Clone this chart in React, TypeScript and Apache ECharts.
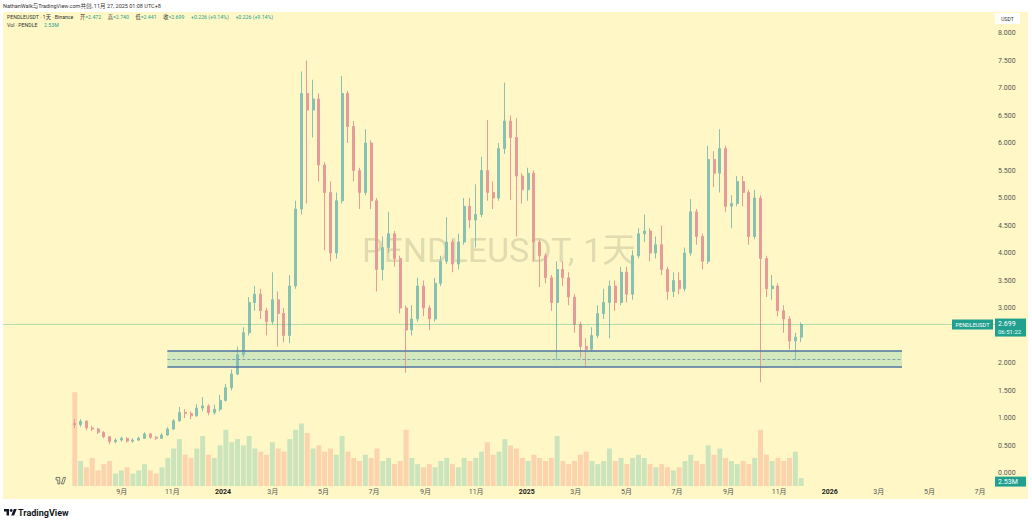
import React, { useEffect, useRef } from "react";
import * as echarts from "echarts";

// ---------- data (weekly candles, weeks start 2023-07-03) ----------
const seriesStart = "2023-07-03";
const firstOpen = 0.9;
const weekClose = [
  0.88, 0.94, 0.82, 0.8, 0.74, 0.66, 0.57, 0.6, 0.63, 0.58,
  0.6, 0.63, 0.71, 0.65, 0.63, 0.69, 0.8, 0.95, 1.1, 1.08,
  1.04, 1.18, 1.22, 1.1, 1.16, 1.32, 1.55, 1.8, 2.15, 2.55,
  3.1, 3.25, 2.95, 2.75, 3.15, 2.9, 2.5, 3.4, 4.8, 6.9,
  6.6, 6.8, 5.6, 5.1, 4.0, 4.95, 6.9, 6.3, 5.5, 5.1,
  6.0, 4.95, 3.7, 4.1, 4.35, 3.9, 3.0, 2.6, 2.8, 3.4,
  3.0, 2.8, 3.45, 3.85, 4.2, 3.8, 4.2, 4.85, 4.6, 4.7,
  5.5, 5.1, 5.0, 5.9, 6.4, 6.1, 5.4, 5.15, 5.45, 4.2,
  3.95, 3.55, 3.1, 3.7, 3.55, 3.2, 2.7, 2.3, 2.25, 2.5,
  2.9, 3.1, 3.4, 3.1, 3.65, 3.25, 3.95, 4.35, 4.4, 4.0,
  4.15, 3.7, 3.3, 3.5, 3.35, 4.0, 4.75, 4.3, 3.85, 5.7,
  5.45, 5.9, 4.85, 4.9, 5.3, 5.1, 4.3, 5.0, 3.9, 3.35,
  3.4, 2.95, 2.8, 2.4, 2.47, 2.699,
];
const weekHigh = [
  0.98, 0.98, 0.96, 0.86, 0.82, 0.76, 0.67, 0.63, 0.66, 0.65,
  0.63, 0.66, 0.74, 0.73, 0.67, 0.72, 0.83, 0.98, 1.2, 1.16,
  1.12, 1.25, 1.38, 1.25, 1.24, 1.42, 1.62, 1.88, 2.3, 2.65,
  3.2, 3.4, 3.35, 3.0, 3.65, 3.3, 3.0, 3.6, 4.95, 7.3,
  7.5, 7.15, 6.9, 5.65, 5.3, 5.1, 7.22, 6.95, 6.4, 5.55,
  6.25, 6.05, 5.0, 4.3, 4.75, 4.4, 3.95, 3.05, 3.05, 3.55,
  3.5, 3.05, 3.55, 3.95, 4.65, 4.25, 4.35, 5.0, 5.0, 5.25,
  5.75, 6.42, 5.3, 6.0, 7.1, 6.5, 6.45, 5.45, 5.55, 5.5,
  4.25, 4.0, 3.6, 3.85, 3.85, 3.65, 3.25, 2.75, 2.45, 2.65,
  3.05, 3.35, 3.5, 3.5, 3.75, 3.75, 4.05, 4.45, 4.7, 4.45,
  4.3, 4.5, 3.75, 3.65, 3.65, 4.1, 4.98, 4.8, 4.35, 5.95,
  5.85, 6.25, 5.95, 5.05, 5.4, 5.4, 5.15, 5.15, 5.05, 3.95,
  3.6, 3.45, 3.05, 2.85, 2.55, 2.74,
];
const weekLow = [
  0.82, 0.84, 0.78, 0.76, 0.71, 0.63, 0.52, 0.54, 0.57, 0.55,
  0.55, 0.58, 0.62, 0.62, 0.6, 0.62, 0.68, 0.78, 0.93, 1.0,
  0.98, 1.02, 1.12, 1.05, 1.06, 1.12, 1.3, 1.5, 1.78, 2.1,
  2.5, 2.95, 2.8, 2.5, 2.7, 2.3, 2.38, 2.36, 3.35, 4.7,
  4.9, 6.1, 5.3, 4.05, 3.85, 3.9, 4.9, 6.0, 5.3, 4.8,
  5.05, 4.8, 3.3, 3.5, 4.0, 3.75, 2.9, 1.82, 2.5, 2.75,
  2.85, 2.6, 2.75, 3.4, 3.8, 3.65, 3.7, 4.15, 4.45, 4.1,
  4.65, 4.95, 4.8, 4.95, 5.8, 4.96, 4.3, 4.9, 4.95, 3.85,
  3.38, 3.45, 2.95, 2.05, 3.4, 3.05, 2.55, 2.1, 1.92, 2.2,
  2.45, 2.8, 2.45, 2.95, 3.05, 3.1, 3.15, 3.9, 4.2, 3.85,
  3.9, 3.6, 3.15, 3.2, 3.25, 3.3, 3.95, 4.15, 3.7, 3.8,
  5.2, 5.1, 4.75, 4.45, 4.85, 4.85, 4.15, 4.25, 1.65, 3.2,
  3.15, 2.85, 2.55, 2.25, 2.05, 2.38,
];
// volume (millions, daily scale)
const weekVolume = [
  30, 8, 6, 9, 5, 7, 8, 4, 5, 6,
  4, 5, 7, 5, 4, 6, 9, 12, 15, 10,
  9, 12, 16, 10, 9, 13, 18, 14, 15, 13,
  16, 12, 11, 10, 14, 12, 11, 15, 18, 20,
  17, 12, 13, 11, 12, 10, 16, 11, 9, 8,
  10, 9, 12, 8, 9, 7, 8, 18, 9, 7,
  6, 7, 6, 8, 9, 7, 6, 9, 8, 9,
  11, 14, 10, 11, 15, 13, 12, 9, 8, 10,
  9, 8, 9, 16, 8, 7, 8, 10, 11, 8,
  7, 8, 12, 8, 9, 7, 9, 10, 9, 7,
  6, 7, 6, 5, 6, 8, 10, 8, 7, 13,
  10, 12, 9, 8, 7, 8, 7, 9, 18, 10,
  8, 9, 8, 9, 11, 2.53,
];

const monthTickDates = [
  "2023-09-01", "2023-11-01", "2024-01-01", "2024-03-01", "2024-05-01", "2024-07-01",
  "2024-09-01", "2024-11-01", "2025-01-01", "2025-03-01", "2025-05-01", "2025-07-01",
  "2025-09-01", "2025-11-01", "2026-01-01", "2026-03-01", "2026-05-01", "2026-07-01",
];
const monthTickLabels = [
  "9月", "11月", "2024", "3月", "5月", "7月",
  "9月", "11月", "2025", "3月", "5月", "7月",
  "9月", "11月", "2026", "3月", "5月", "7月",
];
const yearLabels = ["2024", "2025", "2026"];

// price-axis labels (2.500 sits under the last-price tag in the reference)
const priceTicks = [0, 0.5, 1, 1.5, 2, 3, 3.5, 4, 4.5, 5, 5.5, 6, 6.5, 7, 7.5, 8];
const priceMin = 0;
const priceMax = 8;

const zoneTop = 2.22;
const zoneBottom = 1.93;
const zoneMid = 2.075;
const zoneStart = "2023-10-26";
const zoneEnd = "2026-03-29";

const lastPrice = 2.699;
const lastVolume = 2.53;
const lastVolumeText = "2.53M";
const lastPriceText = "2.699";
const countdownText = "06:51:22";

const viewStart = "2023-04-11";
const viewEnd = "2026-07-19";

// ---------- helpers ----------
const dayOf = (s: string) => {
  const [y, m, d] = s.split("-").map(Number);
  const [y0, m0, d0] = seriesStart.split("-").map(Number);
  return (Date.UTC(y, m - 1, d) - Date.UTC(y0, m0 - 1, d0)) / 86400000;
};

const BG = "#fff8c6";
const UP = "#86c1b1";
const DOWN = "#e59c98";
const UP_VOL = "rgba(38,166,154,0.24)";
const DOWN_VOL = "rgba(239,83,80,0.22)";
const TEAL = "#22a08f";
const FONT = 'Roboto, "Noto Sans CJK SC", sans-serif';

const TV_PATH = "M14 22H7V11H0V4h14v18zM28 22h-8l7.5-18h8L28 22z";
echarts.graphic.registerShape("tvlogo", echarts.graphic.extendPath(TV_PATH, {}) as any);

function buildOption() {
  const candleData = weekClose.map((c, i) => [
    i * 7 + 3.5,
    i === 0 ? firstOpen : weekClose[i - 1],
    c,
    weekLow[i],
    weekHigh[i],
  ]);
  const volData = weekVolume.map((v, i) => {
    const o = i === 0 ? firstOpen : weekClose[i - 1];
    const up = weekClose[i] >= o;
    return { value: [i * 7 + 3.5, v], itemStyle: { color: up ? UP_VOL : DOWN_VOL } };
  });
  const tickDays = monthTickDates.map(dayOf);
  const labelMap: Record<string, string> = {};
  tickDays.forEach((d, i) => (labelMap[String(d)] = monthTickLabels[i]));
  const xMin = dayOf(viewStart);
  const xMax = dayOf(viewEnd);
  const zs = dayOf(zoneStart);
  const ze = dayOf(zoneEnd);

  return {
    animation: false,
    backgroundColor: "#ffffff",
    grid: [
      { left: 3, right: 37, top: 33, bottom: 52 },
      { left: 3, right: 37, top: 386, bottom: 39 },
    ],
    xAxis: [
      {
        type: "value", gridIndex: 0, min: xMin, max: xMax,
        show: false, splitLine: { show: false },
      },
      {
        type: "value", gridIndex: 1, min: xMin, max: xMax,
        axisLine: { show: false }, axisTick: { show: false }, splitLine: { show: false },
        axisLabel: {
          customValues: tickDays,
          margin: 2,
          fontSize: 7,
          color: "#555",
          fontFamily: FONT,
          formatter: (v: number) => {
            const t = labelMap[String(v)] ?? "";
            return yearLabels.includes(t) ? `{y|${t}}` : t;
          },
          rich: { y: { fontSize: 7, fontWeight: "bold", color: "#222", fontFamily: FONT } },
        },
      },
    ],
    yAxis: [
      {
        type: "value", gridIndex: 0, position: "right",
        min: priceMin, max: priceMax,
        axisLine: { show: false }, axisTick: { show: false }, splitLine: { show: false },
        axisLabel: {
          customValues: priceTicks,
          margin: 3, fontSize: 7, color: "#555", fontFamily: FONT,
          formatter: (v: number) => v.toFixed(3),
        },
      },
      { type: "value", gridIndex: 1, min: 0, max: 32, show: false, splitLine: { show: false } },
    ],
    series: [
      {
        type: "bar",
        xAxisIndex: 1,
        yAxisIndex: 1,
        barWidth: 5,
        data: volData,
        z: 1,
      },
      {
        type: "candlestick",
        xAxisIndex: 0,
        yAxisIndex: 0,
        barWidth: 2.5,
        encode: { x: 0, y: [1, 2, 3, 4] },
        data: candleData,
        itemStyle: {
          color: UP, color0: DOWN, borderColor: UP, borderColor0: DOWN, borderWidth: 1,
        },
        markArea: {
          silent: true,
          itemStyle: { color: "rgba(150,210,175,0.42)" },
          data: [[{ coord: [zs, zoneTop] }, { coord: [ze, zoneBottom] }]],
        },
        markLine: {
          silent: true,
          symbol: "none",
          label: { show: false },
          data: [
            [
              { coord: [zs, zoneTop], lineStyle: { color: "#4f76a0", width: 1.6, type: "solid" } },
              { coord: [ze, zoneTop] },
            ],
            [
              { coord: [zs, zoneBottom], lineStyle: { color: "#4f76a0", width: 1.6, type: "solid" } },
              { coord: [ze, zoneBottom] },
            ],
            [
              { coord: [zs, zoneMid], lineStyle: { color: "#6f8faa", width: 0.8, type: [3, 2] } },
              { coord: [ze, zoneMid] },
            ],
            { yAxis: lastPrice, lineStyle: { color: "rgba(60,170,120,0.35)", width: 1, type: "solid" } },
          ],
        },
      },
    ],
  };
}

function buildGraphics(py: number, vy: number) {
  const small = (text: string, x: number, y: number, size: number, fill: string, extra: any = {}) => ({
    type: "text", x, y, z: 100,
    style: { text, fill, fontSize: size, fontFamily: FONT, align: "left", verticalAlign: "middle", ...extra },
  });
  return [
    // chart pane background
    { type: "rect", z: -100, shape: { x: 3, y: 12, width: 1025, height: 487 }, style: { fill: BG } },
    // watermark
    {
      type: "text", x: 499, y: 250, z: -50,
      style: {
        text: "PENDLEUSDT, 1天", fill: "rgba(120,118,100,0.24)", fontSize: 34,
        fontFamily: FONT, align: "center", verticalAlign: "middle",
      },
    },
    // header
    small("NathanWalk与TradingView.com共创, 11月 27, 2025 01:08 UTC+8", 3, 6, 5.5, "#333"),
    {
      type: "text", x: 7, y: 17, z: 100,
      style: {
        text:
          "{d|PENDLEUSDT · 1天 · Binance}  {d|开}{v|=2.472}  {d|高}{v|=2.740}  {d|低}{v|=2.441}  {d|收}{v|=2.699}  {v|+0.226 (+9.14%)}  {v|+0.226 (+9.14%)}",
        verticalAlign: "middle", align: "left",
        rich: {
          d: { fontSize: 5.2, fill: "#333", fontFamily: FONT },
          v: { fontSize: 5.2, fill: TEAL, fontFamily: FONT },
        },
      },
    },
    {
      type: "text", x: 7, y: 25, z: 100,
      style: {
        text: "{d|Vol · PENDLE}  {v|2.53M}",
        verticalAlign: "middle", align: "left",
        rich: {
          d: { fontSize: 5.2, fill: "#333", fontFamily: FONT },
          v: { fontSize: 5.2, fill: TEAL, fontFamily: FONT },
        },
      },
    },
    // USDT box
    { type: "rect", z: 100, shape: { x: 995, y: 13, width: 25, height: 11 }, style: { fill: "#ffffff" } },
    {
      type: "text", x: 1007.5, y: 18.5, z: 101,
      style: { text: "USDT", fill: "#333", fontSize: 5, fontFamily: FONT, align: "center", verticalAlign: "middle" },
    },
    // last price labels
    { type: "rect", z: 100, shape: { x: 952, y: py - 5, width: 41, height: 10 }, style: { fill: TEAL } },
    {
      type: "text", x: 972.5, y: py, z: 101,
      style: { text: "PENDLEUSDT", fill: "#fff", fontSize: 5.5, fontFamily: FONT, align: "center", verticalAlign: "middle" },
    },
    { type: "rect", z: 100, shape: { x: 995, y: py - 6, width: 31, height: 18 }, style: { fill: TEAL } },
    {
      type: "text", x: 998, y: py - 1, z: 101,
      style: { text: lastPriceText, fill: "#fff", fontSize: 7, fontFamily: FONT, align: "left", verticalAlign: "middle" },
    },
    {
      type: "text", x: 998, y: py + 7, z: 101,
      style: { text: countdownText, fill: "#e8fff8", fontSize: 6, fontFamily: FONT, align: "left", verticalAlign: "middle" },
    },
    // last volume label
    { type: "rect", z: 100, shape: { x: 995, y: vy - 1.5, width: 31, height: 10 }, style: { fill: TEAL } },
    {
      type: "text", x: 998, y: vy + 3.5, z: 101,
      style: { text: lastVolumeText, fill: "#fff", fontSize: 7, fontFamily: FONT, align: "left", verticalAlign: "middle" },
    },
    // small in-chart logo
    {
      type: "tvlogo", x: 56, y: 476, scaleX: 0.27, scaleY: 0.36, z: 100,
      style: { fill: "none", stroke: "#555", lineWidth: 2.5 },
    },
    // TradingView brand at bottom
    { type: "tvlogo", x: 4, y: 507.5, scaleX: 0.36, scaleY: 0.36, z: 100, style: { fill: "#131722" } },
    { type: "circle", z: 100, shape: { cx: 4 + 20 * 0.36, cy: 507.5 + 8 * 0.36, r: 4 * 0.36 }, style: { fill: "#131722" } },
    {
      type: "text", x: 18, y: 512.5, z: 100,
      style: { text: "TradingView", fill: "#131722", fontSize: 9, fontWeight: "bold", fontFamily: FONT, align: "left", verticalAlign: "middle" },
    },
  ];
}

export default function App() {
  const ref = useRef<HTMLDivElement>(null);
  useEffect(() => {
    if (!ref.current) return;
    const chart = echarts.init(ref.current, null, { renderer: "svg" });
    chart.setOption(buildOption() as any);
    const py = chart.convertToPixel({ yAxisIndex: 0 } as any, lastPrice) as unknown as number;
    const vy = chart.convertToPixel({ yAxisIndex: 1 } as any, lastVolume) as unknown as number;
    chart.setOption({ graphic: { elements: buildGraphics(py, vy) } } as any);
    return () => chart.dispose();
  }, []);
  return (
    <div
      ref={ref}
      style={{ position: "fixed", left: 0, top: 0, width: 1032, height: 525, background: "#fff" }}
    />
  );
}
